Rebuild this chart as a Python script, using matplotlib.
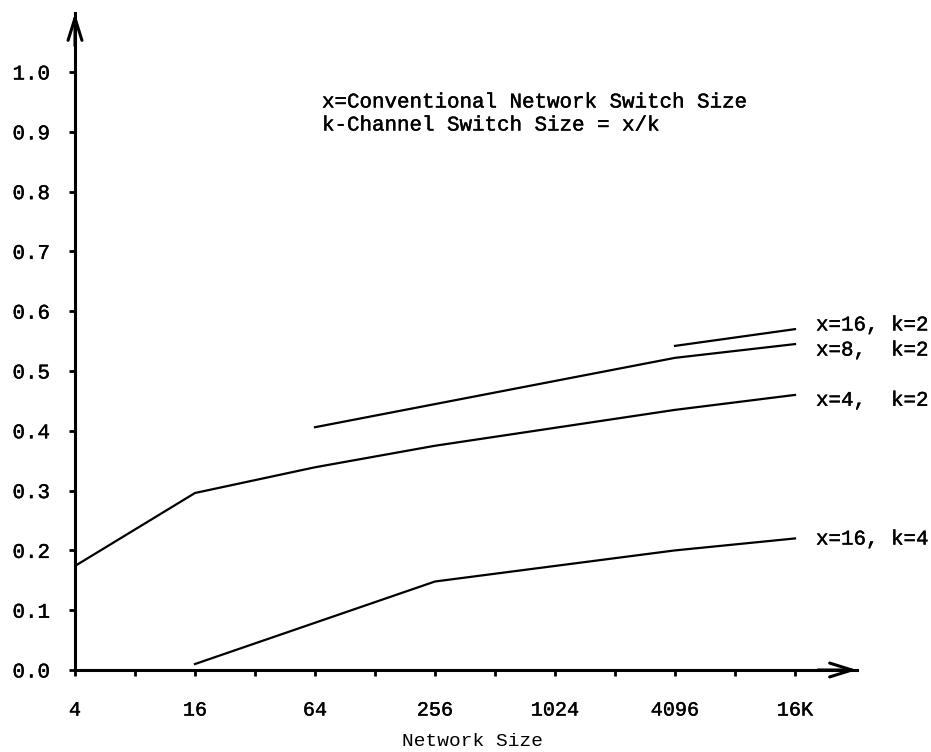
import numpy as np
import matplotlib
matplotlib.use("Agg")
import matplotlib.pyplot as plt
import matplotlib.patheffects as pe

plt.rcParams['font.family'] = ['Liberation Mono', 'DejaVu Sans Mono']
# slightly heavier strokes than the regular face, like typewriter output
heavy = [pe.withStroke(linewidth=0.3, foreground='black')]

# Network sizes along the axis (log2 scale), labelled every other tick
size_ticks = [4, 16, 64, 256, 1024, 4096, 16384]
size_labels = ['4', '16', '64', '256', '1024', '4096', '16K']

# Curves: network size -> value
x4k2_size = [4, 16, 64, 256, 1024, 4096, 16384]
x4k2_val = [0.174, 0.296, 0.339, 0.375, 0.405, 0.435, 0.460]

x8k2_size = [64, 4096, 16384]
x8k2_val = [0.406, 0.522, 0.545]

x16k2_size = [4096, 16384]
x16k2_val = [0.542, 0.570]

x16k4_size = [16, 256, 4096, 16384]
x16k4_val = [0.010, 0.148, 0.200, 0.220]

curve_labels = ['x=16, k=2', 'x=8,  k=2', 'x=4,  k=2', 'x=16, k=4']
label_y = [0.577, 0.535, 0.451, 0.219]

fig = plt.figure(figsize=(9.31, 7.52), dpi=100)
W, H = 931, 752
x0, x1 = 75, 857
y0, y1 = 670, 13
ax = fig.add_axes([x0 / W, 1 - y0 / H, (x1 - x0) / W, (y0 - y1) / H])

lg = np.log2
ax.set_xlim(2, 2 + (x1 - x0) / 60)
ax.set_ylim(0, (y0 - y1) / 598)

lw = 1.6
ax.plot(lg(x4k2_size), x4k2_val, color='black', lw=lw)
ax.plot(lg(x8k2_size), x8k2_val, color='black', lw=lw)
ax.plot(lg(x16k2_size), x16k2_val, color='black', lw=lw)
ax.plot(lg(x16k4_size), x16k4_val, color='black', lw=lw)

for txt, yv in zip(curve_labels, label_y):
    ax.text(14.35, yv, txt, ha='left', va='center', fontsize=15,
            clip_on=False, path_effects=heavy)

# axes with open arrowheads
for s in ['top', 'right']:
    ax.spines[s].set_visible(False)
for s in ['left', 'bottom']:
    ax.spines[s].set_linewidth(2.2)
arrow = dict(arrowstyle='->, head_length=0.8, head_width=0.25', lw=2.2,
             color='black', mutation_scale=20, shrinkA=0, shrinkB=0)
ax.annotate('', xy=(1, 0), xycoords='axes fraction', xytext=(0.95, 0),
            arrowprops=arrow, annotation_clip=False)
ax.annotate('', xy=(0, 1), xycoords='axes fraction', xytext=(0, 0.95),
            arrowprops=arrow, annotation_clip=False)

ax.set_xticks(lg(size_ticks))
ax.set_xticklabels(size_labels)
ax.set_xticks(np.arange(3, 15, 2), minor=True)
ax.tick_params(axis='x', which='both', direction='out', length=4, width=2,
               pad=18, labelsize=14.5)
ax.set_yticks(np.round(np.arange(0, 1.01, 0.1), 1))
ax.set_yticklabels([f'{v:.1f}' for v in np.arange(0, 1.01, 0.1)])
ax.tick_params(axis='y', direction='out', length=4, width=2, pad=14,
               labelsize=15)
for lab in ax.get_xticklabels() + ax.get_yticklabels():
    lab.set_path_effects(heavy)

fig.text(473 / W, 1 - 742 / H, 'Network Size', ha='center', va='center',
         fontsize=14)
fig.text(322 / W, 1 - 102 / H, 'x=Conventional Network Switch Size',
         ha='left', va='center', fontsize=15, path_effects=heavy)
fig.text(322 / W, 1 - 125 / H, 'k-Channel Switch Size = x/k',
         ha='left', va='center', fontsize=15, path_effects=heavy)

fig.savefig('out.png', dpi=100)
